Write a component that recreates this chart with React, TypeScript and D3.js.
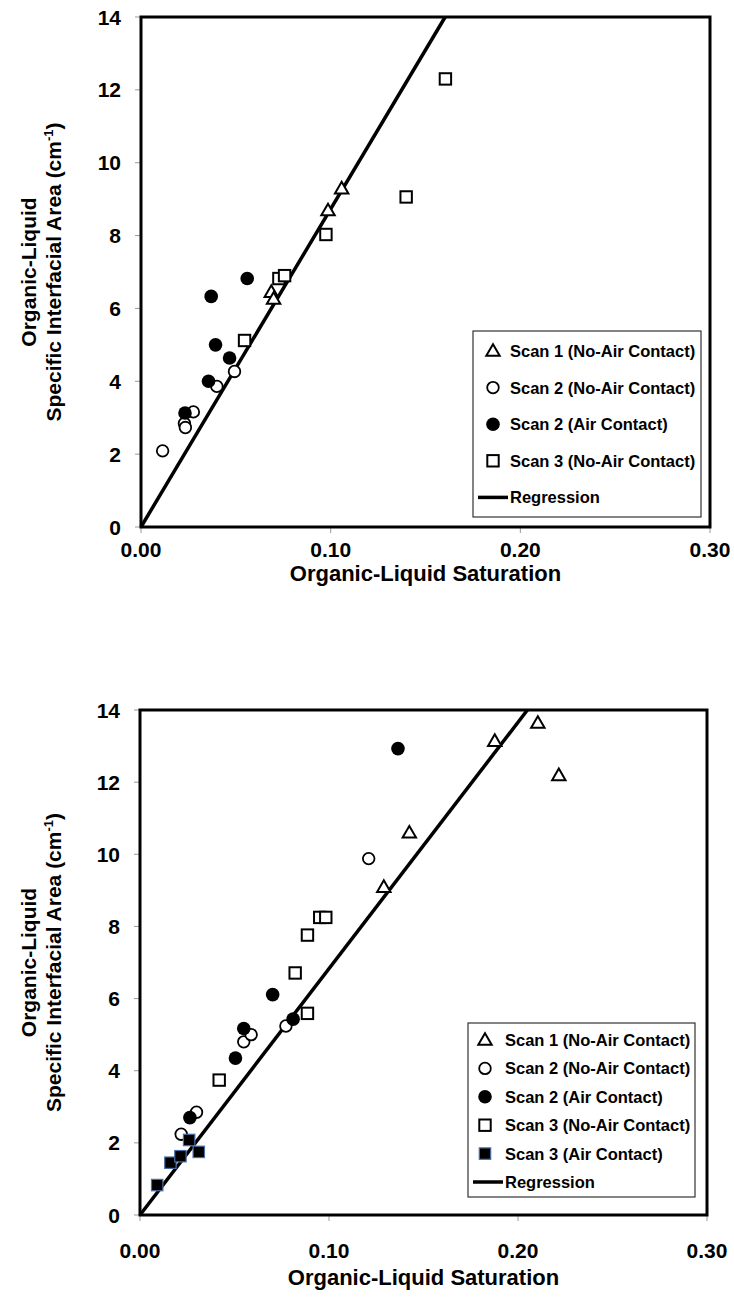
import React from "react";
import * as d3 from "d3";

// axis ticks shared by both panels
const satTicks = [0, 0.1, 0.2, 0.3];
const areaTicks = [0, 2, 4, 6, 8, 10, 12, 14];

// top panel: [saturation, interfacial area]
const topScan1NoAir = [[0.0687, 6.45], [0.0699, 6.26], [0.0986, 8.69], [0.1058, 9.29]];
const topScan2NoAir = [[0.0114, 2.09], [0.0229, 2.84], [0.0234, 2.73], [0.0276, 3.16], [0.040, 3.86], [0.0493, 4.27]];
const topScan2Air = [[0.0232, 3.13], [0.0356, 4.0], [0.037, 6.33], [0.0393, 5.0], [0.0467, 4.64], [0.056, 6.82]];
const topScan3NoAir = [[0.0546, 5.12], [0.0727, 6.82], [0.0757, 6.9], [0.0975, 8.03], [0.1398, 9.06], [0.1605, 12.3]];
const topSlope = 87.3;

// bottom panel
const botScan1NoAir = [[0.129, 9.09], [0.1425, 10.6], [0.1877, 13.14], [0.2105, 13.64], [0.2216, 12.19]];
const botScan2NoAir = [[0.0218, 2.24], [0.0299, 2.85], [0.0549, 4.8], [0.0588, 5.0], [0.0772, 5.24], [0.121, 9.88]];
const botScan2Air = [[0.0264, 2.7], [0.0505, 4.35], [0.0549, 5.17], [0.0702, 6.11], [0.081, 5.43], [0.1365, 12.93]];
const botScan3NoAir = [[0.0419, 3.74], [0.0821, 6.71], [0.0886, 7.76], [0.0886, 5.59], [0.0951, 8.25], [0.0983, 8.25]];
const botScan3Air = [[0.0091, 0.83], [0.0161, 1.45], [0.0214, 1.63], [0.026, 2.08], [0.0311, 1.75]];
const botSlope = 68.3;

const FONT = "'Liberation Sans', Arial, sans-serif";

type Kind = "triangle" | "circle" | "disc" | "square" | "block";

const Marker = ({ kind, x, y }: { kind: Kind; x: number; y: number }) => {
  if (kind === "triangle") {
    const d = d3.symbol(d3.symbolTriangle, 78)();
    return <path d={d} transform={`translate(${x},${y + 1})`} fill="#fff" stroke="#000" strokeWidth={2} />;
  }
  if (kind === "circle") return <circle cx={x} cy={y} r={5.8} fill="#fff" stroke="#000" strokeWidth={1.8} />;
  if (kind === "disc") return <circle cx={x} cy={y} r={6.8} fill="#000" />;
  if (kind === "square") return <rect x={x - 5.7} y={y - 5.7} width={11.4} height={11.4} fill="#fff" stroke="#000" strokeWidth={2} />;
  return <rect x={x - 5.7} y={y - 5.7} width={11.4} height={11.4} fill="#000" stroke="#4a6fa5" strokeWidth={1.2} />;
};

type Series = { label: string; kind: Kind; data: number[][] };

const Panel = ({ box, series, slope, legend }: any) => {
  const x = d3.scaleLinear().domain([0, 0.3]).range([box.left, box.right]);
  const y = d3.scaleLinear().domain([0, 14]).range([box.bottom, box.top]);
  const xEnd = Math.min(0.3, 14 / slope);
  const midY = (box.top + box.bottom) / 2;
  const lg = legend;
  return (
    <g fontFamily={FONT} fontWeight="bold">
      {areaTicks.map((t) => (
        <g key={"y" + t}>
          <line x1={box.left - 6} x2={box.left} y1={y(t)} y2={y(t)} stroke="#999" strokeWidth={1} />
          <text x={box.left - 20} y={y(t)} dy="0.36em" textAnchor="end" fontSize={21}>{t}</text>
        </g>
      ))}
      {satTicks.map((t) => (
        <g key={"x" + t}>
          <line x1={x(t)} x2={x(t)} y1={box.bottom} y2={box.bottom + 6} stroke="#999" strokeWidth={1} />
          <text x={x(t)} y={box.bottom + box.labelGap} textAnchor="middle" fontSize={21}>{d3.format(".2f")(t)}</text>
        </g>
      ))}
      <text x={(box.left + box.right) / 2} y={box.bottom + box.titleGap} textAnchor="middle" fontSize={22}>
        Organic-Liquid Saturation
      </text>
      <g transform={`translate(36,${midY}) rotate(-90)`}>
        <text textAnchor="middle" fontSize={21}>Organic-Liquid</text>
      </g>
      <g transform={`translate(61,${midY}) rotate(-90)`}>
        <text textAnchor="middle" fontSize={21}>
          Specific Interfacial Area (cm<tspan dy={-8} fontSize={13}>-1</tspan><tspan dy={8}>)</tspan>
        </text>
      </g>
      <line x1={x(0)} y1={y(0)} x2={x(xEnd)} y2={y(slope * xEnd)} stroke="#000" strokeWidth={3.5} />
      {series.map((s: Series) =>
        s.data.map((d, i) => <Marker key={s.label + i} kind={s.kind} x={x(d[0])} y={y(d[1])} />)
      )}
      <rect x={box.left} y={box.top} width={box.right - box.left} height={box.bottom - box.top} fill="none" stroke="#000" strokeWidth={3} />
      <rect x={lg.x} y={lg.y} width={lg.w} height={lg.h} fill="#fff" stroke="#333" strokeWidth={1.2} />
      {series.map((s: Series, i: number) => (
        <g key={"lg" + i}>
          <Marker kind={s.kind} x={lg.x + lg.mx} y={lg.y + lg.first + i * lg.step} />
          <text x={lg.x + lg.tx} y={lg.y + lg.first + i * lg.step} dy="0.36em" fontSize={16.5}>{s.label}</text>
        </g>
      ))}
      <line
        x1={lg.x + 5} x2={lg.x + lg.tx - 2}
        y1={lg.y + lg.first + series.length * lg.step} y2={lg.y + lg.first + series.length * lg.step}
        stroke="#000" strokeWidth={3.5}
      />
      <text x={lg.x + lg.tx} y={lg.y + lg.first + series.length * lg.step} dy="0.36em" fontSize={16.5}>Regression</text>
    </g>
  );
};

export default function App() {
  const topSeries: Series[] = [
    { label: "Scan 1 (No-Air Contact)", kind: "triangle", data: topScan1NoAir },
    { label: "Scan 2 (No-Air Contact)", kind: "circle", data: topScan2NoAir },
    { label: "Scan 2 (Air Contact)", kind: "disc", data: topScan2Air },
    { label: "Scan 3 (No-Air Contact)", kind: "square", data: topScan3NoAir },
  ];
  const botSeries: Series[] = [
    { label: "Scan 1 (No-Air Contact)", kind: "triangle", data: botScan1NoAir },
    { label: "Scan 2 (No-Air Contact)", kind: "circle", data: botScan2NoAir },
    { label: "Scan 2 (Air Contact)", kind: "disc", data: botScan2Air },
    { label: "Scan 3 (No-Air Contact)", kind: "square", data: botScan3NoAir },
    { label: "Scan 3 (Air Contact)", kind: "block", data: botScan3Air },
  ];
  return (
    <svg width={734} height={1298} style={{ position: "absolute", left: 0, top: 0, background: "#fff" }}>
      <Panel
        box={{ left: 141, right: 710, top: 17, bottom: 527, labelGap: 30, titleGap: 54 }}
        series={topSeries}
        slope={topSlope}
        legend={{ x: 473, y: 331, w: 228, h: 186, mx: 20, tx: 37, first: 20, step: 36.6 }}
      />
      <Panel
        box={{ left: 140, right: 707, top: 710, bottom: 1215, labelGap: 43, titleGap: 70 }}
        series={botSeries}
        slope={botSlope}
        legend={{ x: 468, y: 1023, w: 227, h: 174, mx: 17, tx: 37, first: 17, step: 28.4 }}
      />
    </svg>
  );
}
